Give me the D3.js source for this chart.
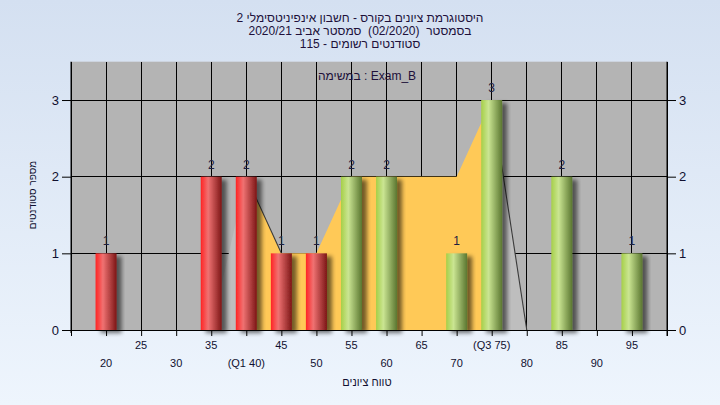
<!DOCTYPE html>
<html><head><meta charset="utf-8">
<script src="https://cdn.jsdelivr.net/npm/d3@7"></script>
<style>html,body{margin:0;padding:0;overflow:hidden;}svg{display:block;} text{white-space:pre;}</style>
</head><body>
<svg id="c" width="720" height="405"></svg>
<script>
// ---- data ----
const categories = [20,25,30,35,40,45,50,55,60,65,70,75,80,85,90,95];
const counts     = [1,0,0,2,2,1,1,2,2,0,1,3,0,2,0,1];
const tickLabels = ["20","25","30","35","(Q1 40)","45","50","55","60","65","70","(Q3 75)","80","85","90","95"];
const areaX = [35,40,45,50,55,60,65,70,75,80];
const areaY = [0,2,1,1,2,2,2,2,3,0];
const q1 = 40, q3 = 75, passMark = 55;
const yTicks = [0,1,2,3];
const titleLines = ["היסטוגרמת ציונים בקורס - חשבון אינפיניטסימלי 2","בסמסטר  (02/2020)  סמסטר אביב 2020/21","סטודנטים רשומים - 115"];
const legendText = "במשימה : Exam_B";
const xTitle = "טווח ציונים", yTitle = "מספר סטודנטים";

const svg = d3.select("#c");
const defs = svg.append("defs");
const bg = defs.append("linearGradient").attr("id","bg").attr("x1",0).attr("y1",0).attr("x2",0).attr("y2",1);
bg.append("stop").attr("offset","0%").attr("stop-color","#d4e0f1");
bg.append("stop").attr("offset","100%").attr("stop-color","#eef5fd");
function cyl(id, c0, c1, c2){
  const g = defs.append("linearGradient").attr("id",id).attr("x1",0).attr("y1",0).attr("x2",1).attr("y2",0);
  g.append("stop").attr("offset","0%").attr("stop-color",c0);
  g.append("stop").attr("offset","35%").attr("stop-color",c1);
  g.append("stop").attr("offset","100%").attr("stop-color",c2);
}
cyl("red","#ff2424","#f07272","#7c1616");
cyl("green","#a6cf48","#cae592","#5a7630");
const f = defs.append("filter").attr("id","sh").attr("x","-20%").attr("y","-20%").attr("width","160%").attr("height","140%");
f.append("feGaussianBlur").attr("in","SourceAlpha").attr("stdDeviation",2.2).attr("result","b");
f.append("feOffset").attr("in","b").attr("dx",5).attr("dy",3).attr("result","o");
f.append("feComponentTransfer").attr("in","o").attr("result","o2").append("feFuncA").attr("type","linear").attr("slope",0.55);
const m = f.append("feMerge"); m.append("feMergeNode").attr("in","o2"); m.append("feMergeNode").attr("in","SourceGraphic");

svg.append("rect").attr("width",720).attr("height",405).attr("fill","url(#bg)");

const L=71, R=667, T=61.7, B=330;
const x = d3.scaleLinear().domain([15,100]).range([L,R]);
const y = d3.scaleLinear().domain([0,3.5]).range([B,T]);
const font = "'Liberation Sans', Arial, sans-serif";

svg.append("rect").attr("x",L).attr("y",T).attr("width",R-L).attr("height",B-T).attr("fill","#b4b4b4");

// grid
const gridX = d3.range(15,101,5);
svg.append("g").selectAll("line").data(gridX).join("line")
  .attr("x1",d=>x(d)).attr("x2",d=>x(d)).attr("y1",T).attr("y2",B)
  .attr("stroke","#000").attr("stroke-width",1).attr("shape-rendering","crispEdges");
svg.append("g").selectAll("line").data(yTicks.filter(d=>d>0)).join("line")
  .attr("x1",L).attr("x2",R).attr("y1",d=>y(d)).attr("y2",d=>y(d))
  .attr("stroke","#000").attr("stroke-width",1).attr("shape-rendering","crispEdges");

// area
const pts = areaX.map((v,i)=>({x:v,y:areaY[i]}));
const area = d3.area().x(d=>x(d.x)).y0(y(0)).y1(d=>y(d.y));
const inner = pts.filter(d=>d.x>=q1 && d.x<=q3);
const left = pts.filter(d=>d.x<=q1), right = pts.filter(d=>d.x>=q3);
svg.append("path").datum(left).attr("d",area).attr("fill","#bebebe");
svg.append("path").datum(right).attr("d",area).attr("fill","#bebebe");
svg.append("path").datum(inner).attr("d",area).attr("fill","#ffc957");
// dark edge on falling segments
const segs = [];
for(let i=1;i<pts.length;i++) if(pts[i].y<pts[i-1].y) segs.push([pts[i-1],pts[i]]);
svg.append("g").selectAll("path").data(segs).join("path")
  .attr("d",d=>d3.line().x(p=>x(p.x)).y(p=>y(p.y))(d))
  .attr("fill","none").attr("stroke","#3a3a3a").attr("stroke-width",1.1);

// bars
const bw = 21;
const bars = categories.map((c,i)=>({c,v:counts[i]})).filter(d=>d.v>0);
svg.append("g").selectAll("rect").data(bars).join("rect")
  .attr("x",d=>x(d.c)-bw/2).attr("width",bw)
  .attr("y",d=>y(d.v)).attr("height",d=>y(0)-y(d.v))
  .attr("fill",d=>d.c<passMark?"url(#red)":"url(#green)")
  .attr("filter","url(#sh)");
svg.append("g").selectAll("text").data(bars).join("text")
  .attr("x",d=>x(d.c)).attr("y",d=>y(d.v)-8).attr("text-anchor","middle")
  .attr("font-family",font).attr("font-size",12).attr("fill","#1e2040").text(d=>d.v);

// axes
const xa = svg.append("g").attr("transform",`translate(0,${B})`).call(d3.axisBottom(x).tickValues(gridX).tickSize(6).tickFormat(""));
xa.select(".domain").attr("stroke","#000");
const ya = svg.append("g").attr("transform",`translate(${L},0)`).call(d3.axisLeft(y).tickValues(yTicks).tickSize(9).tickFormat(d3.format("d")).tickPadding(3));
const yr = svg.append("g").attr("transform",`translate(${R},0)`).call(d3.axisRight(y).tickValues(yTicks).tickSize(9).tickFormat(d3.format("d")).tickPadding(3));
[ya,yr].forEach(a=>{a.select(".domain").remove();a.selectAll("text").attr("font-family",font).attr("font-size",13).attr("fill","#101030");});
svg.append("line").attr("x1",L).attr("x2",L).attr("y1",T).attr("y2",B+3).attr("stroke","#000");
svg.append("line").attr("x1",R).attr("x2",R).attr("y1",T).attr("y2",B+6).attr("stroke","#000");

// x tick labels, staggered
svg.append("g").selectAll("text").data(categories).join("text")
  .attr("x",d=>x(d)).attr("y",(d,i)=>i%2===1?349:367).attr("text-anchor","middle")
  .attr("font-family",font).attr("font-size",11).attr("fill","#101030")
  .text((d,i)=>tickLabels[i]);

// titles
svg.append("g").selectAll("text").data(titleLines).join("text")
  .attr("x",360).attr("y",(d,i)=>22+i*13).attr("text-anchor","middle").attr("direction","rtl")
  .attr("font-family",font).attr("font-size",12).attr("fill","#20103a").text(d=>d);
svg.append("text").attr("x",367).attr("y",80).attr("text-anchor","middle")
  .attr("font-family",font).attr("font-size",12).attr("fill","#20103a").text(legendText);
svg.append("text").attr("x",367).attr("y",386).attr("text-anchor","middle").attr("direction","rtl")
  .attr("font-family",font).attr("font-size",11).attr("fill","#101030").text(xTitle);
svg.append("text").attr("transform","translate(36,195) rotate(-90)").attr("text-anchor","middle").attr("direction","rtl")
  .attr("font-family",font).attr("font-size",10).attr("fill","#101030").text(yTitle);
</script>
</body></html>
